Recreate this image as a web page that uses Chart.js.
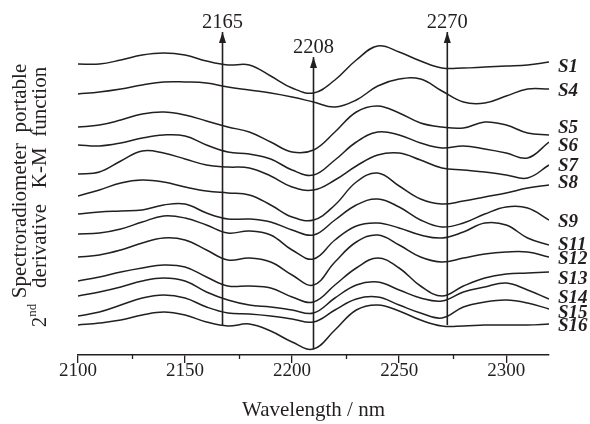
<!DOCTYPE html>
<html>
<head>
<meta charset="utf-8">
<title>2nd derivative K-M spectra</title>
<script src="https://cdn.jsdelivr.net/npm/chart.js@4.4.1/dist/chart.umd.min.js"></script>
<style>
  html, body { margin: 0; padding: 0; background: #fff; }
  canvas { display: block; }
</style>
</head>
<body>
<canvas id="spectraChart" width="590" height="424"></canvas>
<script>
const wavelengths = [2100, 2110, 2120, 2130, 2140, 2150, 2160, 2170, 2180, 2190, 2200, 2210,
                     2220, 2230, 2240, 2250, 2260, 2270, 2280, 2290, 2300, 2310, 2320];

// 2nd derivative K-M function, each sample shifted up by its own offset (arbitrary units)
const s1  = [291, 291, 295, 300, 302, 300, 294, 290, 290, 279, 267, 262, 275, 295, 309, 303, 294, 287, 287, 288, 289, 290, 293];
const s4  = [261, 263, 266, 270, 273, 273, 272, 268, 265, 262, 258, 253, 248, 255, 269, 276, 276, 264, 253, 252, 259, 266, 266];
const s5  = [228, 230, 235, 241, 243, 240, 234, 228, 223, 213, 203, 205, 223, 243, 249, 242, 232, 228, 227, 233, 230, 222, 220];
const s6  = [210, 209, 212, 217, 220, 219, 210, 203, 201, 196, 185, 180, 195, 213, 223, 220, 212, 207, 209, 206, 202, 197, 213];
const s7  = [181, 183, 194, 204, 202, 196, 190, 188, 187, 179, 168, 165, 175, 189, 200, 202, 195, 187, 185, 183, 180, 177, 190];
const s8  = [159, 165, 172, 175, 173, 168, 164, 162, 160, 150, 138, 135, 150, 173, 182, 169, 156, 151, 154, 158, 162, 167, 170];
const s9  = [141, 143, 144, 145, 150, 151, 142, 136, 136, 133, 125, 120, 135, 150, 156, 148, 135, 128, 132, 141, 148, 147, 135];
const s11 = [121, 122, 126, 133, 139, 137, 130, 122, 124, 120, 105, 96, 115, 129, 132, 127, 120, 117, 123, 132, 130, 117, 110];
const s12 = [98, 100, 105, 112, 117, 115, 105, 95, 97, 93, 80, 70, 93, 113, 120, 110, 98, 93, 97, 101, 103, 103, 98];
const s13 = [74, 78, 83, 87, 90, 88, 78, 69, 69, 67, 58, 53, 70, 87, 97, 87, 69, 59, 69, 77, 81, 82, 83];
const s14 = [59, 63, 68, 74, 77, 74, 63, 55, 50, 48, 45, 42, 57, 70, 73, 65, 57, 54, 63, 68, 72, 65, 56];
const s15 = [39, 43, 50, 57, 60, 57, 48, 42, 41, 39, 36, 33, 45, 56, 58, 50, 42, 37, 48, 53, 55, 52, 46];
const s16 = [30, 32, 35, 40, 43, 40, 33, 29, 31, 24, 13, 6, 25, 45, 50, 44, 35, 29, 29, 30, 30, 30, 31];

const sampleNames  = ['S1', 'S4', 'S5', 'S6', 'S7', 'S8', 'S9', 'S11', 'S12', 'S13', 'S14', 'S15', 'S16'];
const sampleSeries = [s1, s4, s5, s6, s7, s8, s9, s11, s12, s13, s14, s15, s16];
// small vertical shift (px) of each name so they don't collide, as in the figure
const nameNudge    = [5, 2, -7, 4, 1, -2, 2, 0, 2, 7, -1, 4, 2];

// band markers (arrows)
const bandAt     = [2167.5, 2210, 2272.5];
const bandLabels = ['2165', '2208', '2270'];
const bandFrom   = [29, 6, 30];
const bandTo     = [323, 298, 323];

// x axis
const xMin = 2100, xMax = 2320;
const majorStep = 50;
const minorTicks = [2125, 2175, 2225, 2275];

const ink = '#231f20';
const serif = "'Liberation Serif', 'DejaVu Serif', serif";

const datasets = [];
sampleSeries.forEach((series, i) => {
    datasets.push({
        label: sampleNames[i],
        data: series.map((v, j) => ({ x: wavelengths[j], y: v })),
        borderColor: ink,
        borderWidth: 1.5,
        pointRadius: 0,
        tension: 0.4,
        fill: false
    });
});
bandAt.forEach((wl, i) => {
    datasets.push({
        label: bandLabels[i],
        data: [{ x: wl, y: bandFrom[i] }, { x: wl, y: bandTo[i] }],
        borderColor: ink,
        borderWidth: 1.6,
        pointRadius: 0,
        fill: false
    });
});

// names at the right end of each curve
const namePlugin = {
    id: 'sampleNames',
    afterDatasetsDraw(chart) {
        const ctx = chart.ctx;
        const ys = chart.scales.y;
        ctx.save();
        ctx.fillStyle = ink;
        ctx.font = 'italic bold 19px ' + serif;
        ctx.textBaseline = 'middle';
        ctx.textAlign = 'left';
        sampleSeries.forEach((series, i) => {
            const y = ys.getPixelForValue(series[series.length - 1]) + nameNudge[i];
            ctx.fillText(sampleNames[i], chart.chartArea.right + 9, y);
        });
        ctx.restore();
    }
};

// arrow heads + band labels, minor ticks, y title
const decorPlugin = {
    id: 'decor',
    afterDraw(chart) {
        const ctx = chart.ctx;
        const xs = chart.scales.x, ys = chart.scales.y;
        ctx.save();
        ctx.fillStyle = ink;
        ctx.strokeStyle = ink;

        bandAt.forEach((wl, i) => {
            const px = xs.getPixelForValue(wl);
            const tip = ys.getPixelForValue(bandTo[i]);
            ctx.beginPath();
            ctx.moveTo(px, tip);
            ctx.lineTo(px - 3.5, tip + 11);
            ctx.lineTo(px + 3.5, tip + 11);
            ctx.closePath();
            ctx.fill();
            ctx.font = '20.5px ' + serif;
            ctx.textAlign = 'center';
            ctx.textBaseline = 'alphabetic';
            ctx.fillText(bandLabels[i], px, tip - 4.5);
        });

        ctx.lineWidth = 1.3;
        minorTicks.forEach(v => {
            const px = Math.round(xs.getPixelForValue(v)) + 0.5;
            ctx.beginPath();
            ctx.moveTo(px, xs.top);
            ctx.lineTo(px, xs.top + 4);
            ctx.stroke();
        });

        // y axis title, two rotated lines
        const big = '21px ' + serif, small = '13px ' + serif;
        ctx.font = big;
        ctx.textBaseline = 'middle';
        ctx.save();
        ctx.translate(20, 181);
        ctx.rotate(-Math.PI / 2);
        ctx.textAlign = 'center';
        ctx.fillText('Spectroradiometer  portable', 0, 0);
        ctx.restore();

        ctx.save();
        ctx.translate(40, 197);
        ctx.rotate(-Math.PI / 2);
        ctx.textAlign = 'left';
        const rest = '   derivative   K-M  function';
        ctx.font = big;
        const w2 = ctx.measureText('2').width;
        const wRest = ctx.measureText(rest).width;
        ctx.font = small;
        const wSup = ctx.measureText('nd').width;
        let x = -(w2 + wSup + wRest) / 2;
        ctx.font = big;
        ctx.fillText('2', x, 0);
        x += w2;
        ctx.font = small;
        ctx.fillText('nd', x, -7);
        x += wSup;
        ctx.font = big;
        ctx.fillText(rest, x, 0);
        ctx.restore();

        ctx.restore();
    }
};

new Chart(document.getElementById('spectraChart'), {
    type: 'line',
    data: { datasets },
    options: {
        responsive: false,
        animation: false,
        devicePixelRatio: 1,
        layout: { padding: { top: 10, left: 78, right: 41, bottom: 0 } },
        plugins: {
            legend: { display: false },
            tooltip: { enabled: false }
        },
        scales: {
            x: {
                type: 'linear',
                min: xMin,
                max: xMax,
                afterFit(scale) { scale.height = 69; },
                border: { display: true, color: ink, width: 1.5 },
                grid: { drawOnChartArea: false, drawTicks: true, tickLength: 8, color: ink, lineWidth: 1.3 },
                ticks: {
                    stepSize: majorStep,
                    includeBounds: false,
                    color: ink,
                    padding: -3,
                    maxRotation: 0,
                    font: { family: serif, size: 19 },
                    callback: v => String(v)
                },
                title: {
                    display: true,
                    text: 'Wavelength / nm',
                    color: ink,
                    padding: { top: 0, bottom: 1 },
                    font: { family: serif, size: 21 }
                }
            },
            y: {
                display: false,
                min: 0,
                max: 345
            }
        }
    },
    plugins: [namePlugin, decorPlugin]
});
</script>
</body>
</html>
